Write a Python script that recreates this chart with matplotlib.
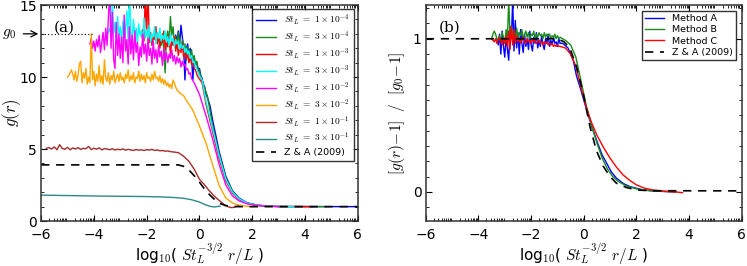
import numpy as np
import matplotlib
matplotlib.use("Agg")
import matplotlib.pyplot as plt
from matplotlib.ticker import FixedLocator, MultipleLocator

plt.rcParams['mathtext.fontset'] = 'cm'
plt.rcParams['font.family'] = ['DejaVu Sans']

# ---------------- Panel (a) data ----------------
st_labels = [r"$St_L\ =\ 1\times10^{-4}$", r"$St_L\ =\ 3\times10^{-4}$",
             r"$St_L\ =\ 1\times10^{-3}$", r"$St_L\ =\ 3\times10^{-3}$",
             r"$St_L\ =\ 1\times10^{-2}$", r"$St_L\ =\ 3\times10^{-2}$",
             r"$St_L\ =\ 1\times10^{-1}$", r"$St_L\ =\ 3\times10^{-1}$"]
st_colors = ["#0000ff", "#1a8a1a", "#ff0000", "#00ffff", "#ff00ff", "#ffa500", "#a52a2a", "#2a8a8a"]

# noisy plateau parts: start x, step, values
blue_start, blue_vals = -0.9, [12.9, 12.5, 13.2, 12.3, 13.6, 12.8, 12.1, 9.8, 11.9, 12.3, 11.6, 12.0, 11.4, 9.8,
                               11.2, 10.9, 11.0, 10.4, 10.6, 10.1, 9.9, 9.5, 9.3, 8.8, 8.6]
blue_tx = [0.4, 0.5, 0.75, 1.0, 1.25, 1.5, 1.8, 2.2, 2.6, 3.0, 6.0]
blue_ty = [8.0, 7.0, 4.8, 3.1, 2.1, 1.6, 1.27, 1.1, 1.04, 1.01, 1.0]

green_start, green_vals = -1.5, [12.6, 12.2, 13.0, 11.8, 10.3, 12.7, 13.2, 12.4, 14.2, 12.9, 13.5, 12.3, 12.8,
                                 12.1, 13.1, 12.4, 11.9, 12.6, 12.0, 12.3, 11.6, 12.1, 11.8, 11.4, 11.9, 11.2,
                                 11.5, 10.9, 11.1, 10.6, 10.4, 10.0, 9.7]
green_tx = [0.2, 0.3, 0.5, 0.75, 1.0, 1.25, 1.5, 1.8, 2.2, 2.6, 3.0, 4.8]
green_ty = [9.2, 8.7, 6.6, 4.6, 3.0, 2.05, 1.55, 1.25, 1.1, 1.04, 1.01, 1.0]

red_start, red_vals = -2.2, [12.8, 13.3, 12.5, 16.0, 12.9, 16.0, 12.4, 13.1, 12.2, 12.8, 12.6, 13.5, 12.3, 12.9,
                             12.0, 12.7, 12.4, 13.2, 11.9, 12.6, 12.1, 12.9, 11.6, 12.5, 12.2, 12.8, 11.8, 12.4,
                             11.5, 12.1, 11.7, 12.3, 11.4, 11.9, 11.2, 11.7, 11.0, 11.4, 10.9, 11.1, 10.6, 10.5,
                             10.2, 10.0]
red_tx = [0.1, 0.25, 0.5, 0.75, 1.0, 1.25, 1.5, 1.8, 2.2, 2.6, 3.0, 4.3]
red_ty = [9.6, 8.1, 6.2, 4.3, 2.8, 1.95, 1.5, 1.22, 1.08, 1.03, 1.01, 1.0]

cyan_start, cyan_vals = -3.45, [13.1, 13.4, 12.8, 15.5, 13.0, 13.8, 12.6, 14.2, 12.9, 13.5, 12.4, 13.9, 12.7,
                                13.3, 14.6, 12.5, 16.0, 13.2, 12.6, 14.0, 12.8, 13.4, 12.3, 13.7, 12.9, 13.2,
                                12.5, 14.1, 12.7, 13.3, 12.6, 13.6, 12.4, 13.0, 12.8, 13.5, 12.3, 13.1, 12.7,
                                13.4, 12.5, 12.9, 12.6, 13.2, 12.4, 12.8, 12.2, 13.0, 12.5, 12.7, 12.1, 12.6,
                                12.3, 12.5, 11.9, 12.3, 12.0, 12.2, 11.7, 12.0, 11.6, 11.8, 11.3, 11.5, 11.0,
                                11.1, 10.7, 10.6, 10.3, 10.1]
cyan_tx = [0.1, 0.25, 0.5, 0.75, 1.0, 1.25, 1.5, 1.8, 2.2, 2.6, 3.0, 3.6]
cyan_ty = [9.8, 8.3, 6.4, 4.5, 2.9, 2.0, 1.55, 1.25, 1.1, 1.04, 1.01, 1.0]

mag_start, mag_vals = -4.15, [12.3, 12.7, 12.0, 12.5, 11.8, 12.6, 12.1, 12.9, 11.7, 12.4, 13.1, 11.9, 13.4,
                              12.2, 14.1, 16.0, 12.0, 14.5, 11.2, 10.6, 13.8, 11.5, 13.0, 11.3, 12.8, 11.0,
                              14.3, 11.8, 12.6, 10.9, 13.5, 11.6, 12.9, 11.2, 13.2, 11.7, 12.4, 10.8, 12.1,
                              11.4, 13.0, 11.6, 12.3, 11.1, 12.7, 11.5, 12.0, 10.9, 12.5, 11.3, 11.9, 11.0,
                              12.2, 11.4, 11.8, 10.8, 12.0, 11.2, 11.7, 11.0, 11.6, 11.3, 11.9, 11.1, 11.5,
                              10.9, 11.4, 11.0, 11.3, 10.7, 11.1, 10.8, 10.9, 10.5, 10.6, 10.2, 10.3, 9.9]
mag_tx = [-0.2, 0.0, 0.25, 0.5, 0.75, 1.0, 1.25, 1.5, 1.8, 2.2, 2.6, 3.0]
mag_ty = [9.6, 8.8, 7.3, 5.7, 3.9, 2.5, 1.75, 1.4, 1.2, 1.08, 1.03, 1.0]

orange_start, orange_vals = -5.0, [10.0, 10.1, 10.3, 10.5, 10.2, 9.8, 10.4, 9.7, 10.1, 10.9, 11.1, 9.6, 10.3,
                                   9.9, 10.6, 9.5, 10.0, 9.6, 13.0, 9.8, 10.4, 9.4, 10.2, 9.7, 10.8, 9.6,
                                   10.1, 9.5, 11.2, 9.9, 9.7, 10.3, 9.5, 10.1, 9.8, 10.4, 9.6, 9.9, 10.2, 9.7,
                                   10.3, 9.8, 10.0, 9.6, 10.2, 9.9, 10.5, 9.7, 10.1, 9.8, 10.3, 9.6, 10.0, 9.9,
                                   10.4, 9.7, 10.2, 9.8, 10.1, 9.6, 10.3, 9.9, 10.0, 9.7, 10.2, 9.8, 10.4, 9.9,
                                   10.0, 9.7, 10.1, 9.6, 9.9, 9.5, 9.8, 9.4, 9.6, 9.3, 9.5, 9.2, 9.8, 9.6, 9.3,
                                   9.1, 9.0, 8.9]
orange_tx = [-0.6, -0.5, -0.25, 0.0, 0.25, 0.5, 0.75, 1.0, 1.25, 1.5, 1.8, 2.2]
orange_ty = [8.7, 8.4, 7.7, 6.6, 5.4, 3.9, 2.45, 1.6, 1.25, 1.1, 1.02, 1.0]

brown_start, brown_vals = -5.8, [5.05, 5.1, 5.0, 5.15, 4.95, 5.3, 5.05, 4.98, 5.12, 4.95, 5.08, 5.0, 5.1, 4.97,
                                 5.05, 5.02, 5.18, 4.96, 5.06, 4.99, 5.08, 4.94, 5.03, 5.0, 4.95, 5.02, 4.93,
                                 4.99, 4.95, 5.01, 4.92, 4.98, 4.94, 4.9, 4.97, 4.92, 4.95, 4.9, 4.96, 4.93,
                                 4.98, 4.9, 4.94, 4.88, 4.9, 4.85, 4.87, 4.82, 4.8]
brown_tx = [-0.8, -0.6, -0.4, -0.2, 0.0, 0.2, 0.35, 0.5, 0.65, 0.8, 0.95, 1.1, 1.22, 1.35, 1.47]
brown_ty = [4.75, 4.5, 4.15, 3.6, 2.9, 2.5, 2.15, 1.85, 1.58, 1.35, 1.12, 0.98, 0.93, 0.97, 1.05]

teal_x = [-6.0, -5.0, -4.0, -3.0, -2.0, -1.5, -1.0, -0.6, -0.3, 0.0, 0.2, 0.4, 0.55, 0.78]
teal_y = [1.8, 1.77, 1.74, 1.72, 1.7, 1.68, 1.64, 1.58, 1.48, 1.32, 1.15, 1.02, 0.98, 1.03]

za_a_x = [-6.0, -0.8, -0.6, -0.4, -0.2, 0.0, 0.2, 0.4, 0.6, 0.8, 1.0, 1.2, 1.5, 6.0]
za_a_y = [3.9, 3.9, 3.8, 3.55, 3.15, 2.7, 2.2, 1.8, 1.45, 1.2, 1.07, 1.02, 1.0, 1.0]

g0_value = 13.0
g0_line_x = [-6.0, -4.0]

# ---------------- Panel (b) data ----------------
method_labels = ["Method A", "Method B", "Method C"]
method_colors = ["#0000ff", "#1a8a1a", "#ff0000"]

mA_start, mA_vals = -3.3, [1.0, 0.96, 1.03, 0.9, 1.05, 0.95, 0.88, 1.02, 0.93, 0.86, 1.08, 1.0, 1.25, 0.92,
                           1.12, 0.94, 1.04, 0.9, 1.06, 0.97, 0.91, 1.03, 0.95, 1.0, 0.93, 1.05, 0.96, 0.92,
                           1.01, 0.97, 1.04, 0.94, 0.99, 0.95, 1.02, 0.96, 0.93, 1.0, 0.97, 1.03, 0.95, 0.99,
                           0.96, 1.01, 0.97, 0.98, 0.95, 1.0, 0.97]
mA_tx = [-0.8, -0.6, -0.4, -0.28, -0.1, 0.1, 0.3, 0.48, 0.7, 0.86, 1.05, 1.24, 1.5, 1.75, 2.2, 2.63, 3.5]
mA_ty = [0.97, 0.94, 0.86, 0.76, 0.66, 0.54, 0.43, 0.34, 0.24, 0.19, 0.13, 0.09, 0.055, 0.035, 0.015, 0.006, 0.0]

mB_start, mB_vals = -3.5, [1.0, 1.03, 1.05, 1.03, 1.0, 0.99, 1.02, 0.98, 1.04, 1.01, 0.97, 1.06, 1.0, 1.25,
                           1.02, 1.08, 0.99, 1.05, 1.01, 1.07, 1.0, 1.04, 1.02, 1.06, 0.99, 1.03, 1.05, 1.01,
                           1.04, 1.0, 1.03, 1.02, 1.05, 1.0, 1.03, 1.01, 1.04, 1.02, 1.03, 1.0, 1.04, 1.01,
                           1.03, 1.02, 1.03, 1.0, 1.02, 1.01, 1.03, 1.0, 1.02, 1.0, 1.01]
mB_tx = [-0.7, -0.5, -0.3, -0.1, 0.1, 0.3, 0.5, 0.7, 0.9, 1.1, 1.3, 1.6, 2.0, 2.5, 3.5]
mB_ty = [0.99, 0.96, 0.88, 0.72, 0.56, 0.43, 0.32, 0.22, 0.15, 0.1, 0.07, 0.04, 0.02, 0.008, 0.0]

mC_start, mC_vals = -3.5, [1.0, 0.99, 0.98, 1.0, 0.97, 0.99, 1.01, 0.98, 0.96, 1.0, 0.97, 1.02, 0.95, 1.05,
                           0.93, 1.08, 0.96, 1.06, 0.97, 1.02, 0.98, 1.0, 0.97, 0.99, 1.01, 0.98, 0.97, 1.0,
                           0.98, 0.99, 0.97, 1.0, 0.98, 0.99, 0.97, 0.98, 0.99, 0.97, 0.98, 0.96, 0.98, 0.97,
                           0.98, 0.96, 0.97, 0.96, 0.97, 0.95, 0.96, 0.95, 0.96, 0.95, 0.95]
mC_tx = [-0.7, -0.5, -0.3, -0.1, 0.1, 0.3, 0.5, 0.75, 1.0, 1.25, 1.5, 1.75, 2.0, 2.3, 2.63, 3.0, 3.5, 3.75]
mC_ty = [0.94, 0.9, 0.82, 0.68, 0.55, 0.45, 0.37, 0.29, 0.22, 0.16, 0.11, 0.075, 0.046, 0.025, 0.013, 0.005, 0.0, -0.005]

za_b_x = [-6.0, -1.0, -0.75, -0.53, -0.28, -0.03, 0.23, 0.48, 0.73, 1.0, 1.24, 1.6, 2.0, 2.5, 6.0]
za_b_y = [1.0, 1.0, 0.98, 0.94, 0.82, 0.65, 0.43, 0.27, 0.17, 0.1, 0.057, 0.03, 0.013, 0.008, 0.007]

za_label = "Z & A (2009)"
x_ticks = [-6, -4, -2, 0, 2, 4, 6]
xlabel = r"log$_{10}$( $St_L^{-3/2}\ r/L$ )"

STEP = 0.05
BROWN_STEP = 0.1


def build(start, vals, tx, ty, step=STEP):
    x = start + step * np.arange(len(vals))
    return np.concatenate([x, tx]), np.concatenate([vals, ty])


def style_axes(ax):
    ax.set_xlim(-6, 6)
    ax.set_xticks(x_ticks)
    minors = []
    for n in range(-6, 6):
        for k in range(2, 11):
            v = n + np.log10(k)
            if n % 2 == 1 or k < 10:
                minors.append(v)
    ax.xaxis.set_minor_locator(FixedLocator(minors))
    ax.tick_params(which='both', direction='in', top=True, right=True)
    ax.tick_params(which='major', length=4, width=0.8, labelsize=10, pad=3)
    ax.tick_params(axis='x', which='major', pad=5)
    ax.tick_params(which='minor', length=2, width=0.6)
    for s in ax.spines.values():
        s.set_linewidth(1.1)
        s.set_color('#333333')
    ax.set_xlabel(xlabel, fontsize=11, labelpad=0)


fig = plt.figure(figsize=(7.47, 2.66), dpi=100)
axa = fig.add_axes([0.055, 0.169, 0.424, 0.812])
axb = fig.add_axes([0.570, 0.169, 0.423, 0.812])

# ---- panel a ----
series = [
    build(blue_start, blue_vals, blue_tx, blue_ty),
    build(green_start, green_vals, green_tx, green_ty),
    build(red_start, red_vals, red_tx, red_ty),
    build(cyan_start, cyan_vals, cyan_tx, cyan_ty),
    build(mag_start, mag_vals, mag_tx, mag_ty),
    build(orange_start, orange_vals, orange_tx, orange_ty),
    build(brown_start, brown_vals, brown_tx, brown_ty, BROWN_STEP),
    (np.array(teal_x), np.array(teal_y)),
]
for (x, y), c, lab in zip(series, st_colors, st_labels):
    axa.plot(x, y, color=c, lw=1.0, label=lab)
axa.plot(za_a_x, za_a_y, color='black', lw=1.2, dashes=(5, 4), label=za_label)
axa.plot(g0_line_x, [g0_value, g0_value], color='black', lw=0.8, ls=(0, (1, 2)))
axa.set_ylim(0, 15)
axa.set_yticks([0, 5, 10, 15])
axa.yaxis.set_minor_locator(MultipleLocator(1))
style_axes(axa)
axa.set_ylabel(r"$g(r)$", fontsize=12, labelpad=-3)
axa.text(0.04, 0.93, "(a)", transform=axa.transAxes, fontsize=11,
         family='DejaVu Serif', va='top', ha='left')
axa.annotate(r"$g_0$", xy=(-6, g0_value), xycoords='data', xytext=(-28, 0),
             textcoords='offset points', va='center', ha='left', fontsize=11,
             annotation_clip=False,
             arrowprops=dict(arrowstyle='->', color='black', lw=0.9, shrinkA=3, shrinkB=2))
lega = axa.legend(loc='upper right', fontsize=6.8, frameon=True, fancybox=False,
                  edgecolor='black', labelspacing=0.2, handlelength=2.2,
                  borderpad=0.4, borderaxespad=0.45)
lega.get_frame().set_linewidth(1.0)

# ---- panel b ----
bseries = [
    build(mA_start, mA_vals, mA_tx, mA_ty),
    build(mB_start, mB_vals, mB_tx, mB_ty),
    build(mC_start, mC_vals, mC_tx, mC_ty),
]
for (x, y), c, lab in zip(bseries, method_colors, method_labels):
    axb.plot(x, y, color=c, lw=1.0, label=lab)
axb.plot(za_b_x, za_b_y, color='black', lw=1.2, dashes=(5, 4), label=za_label)
axb.set_ylim(-0.19, 1.22)
axb.set_yticks([0, 1])
axb.yaxis.set_minor_locator(MultipleLocator(0.1))
style_axes(axb)
axb.set_ylabel(r"$[g(r)\!-\!1]\ \ /\ \ [g_0\!-\!1]$", fontsize=11, labelpad=4)
axb.text(0.04, 0.93, "(b)", transform=axb.transAxes, fontsize=11,
         family='DejaVu Serif', va='top', ha='left')
legb = axb.legend(loc='upper right', fontsize=6.8, frameon=True, fancybox=False,
                  edgecolor='black', labelspacing=0.25, handlelength=2.0,
                  borderpad=0.35, borderaxespad=0.6)
legb.get_frame().set_linewidth(1.0)

fig.savefig("out.png", dpi=100)
